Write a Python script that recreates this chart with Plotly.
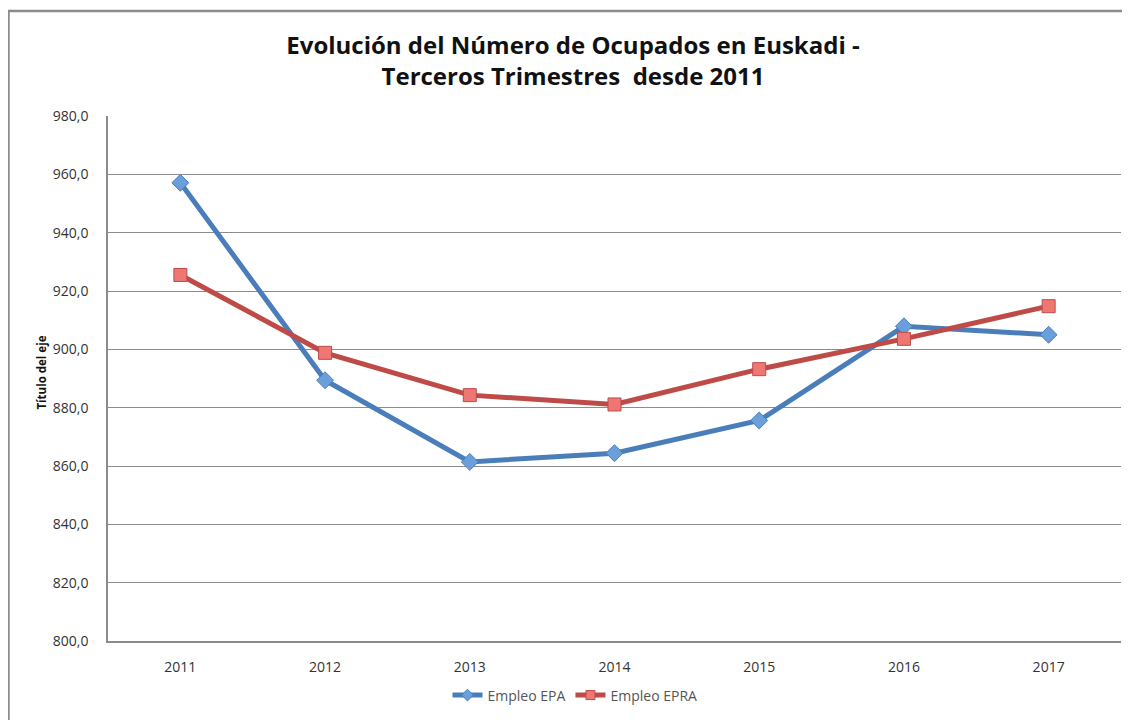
import plotly.graph_objects as go

years = ["2011", "2012", "2013", "2014", "2015", "2016", "2017"]
empleo_epa = [957.1, 889.4, 861.4, 864.4, 875.6, 907.9, 905.0]
empleo_epra = [925.5, 898.8, 884.3, 881.1, 893.2, 903.6, 914.8]
y_ticks = [800, 820, 840, 860, 880, 900, 920, 940, 960, 980]
y_tick_labels = ["800,0", "820,0", "840,0", "860,0", "880,0", "900,0", "920,0", "940,0", "960,0", "980,0"]

FONT = "Open Sans"
BLUE, BLUE_FILL = "#4A7EBB", "#6A9FDC"
RED, RED_FILL = "#BE4B48", "#EE7773"

fig = go.Figure()
fig.add_trace(go.Scatter(
    x=years, y=empleo_epa, name="Empleo EPA", mode="lines+markers", showlegend=False,
    line=dict(color=BLUE, width=5),
    marker=dict(symbol="diamond", size=13, color=BLUE_FILL, line=dict(color=BLUE, width=1)),
))
fig.add_trace(go.Scatter(
    x=years, y=empleo_epra, name="Empleo EPRA", mode="lines+markers", showlegend=False,
    line=dict(color=RED, width=5),
    marker=dict(symbol="square", size=13, color=RED_FILL, line=dict(color=RED, width=1)),
))
# legend entries (smaller markers, as in the original legend)
fig.add_trace(go.Scatter(
    x=[None], y=[None], name="Empleo EPA", mode="lines+markers",
    line=dict(color=BLUE, width=5),
    marker=dict(symbol="diamond", size=9, color=BLUE_FILL, line=dict(color=BLUE, width=1)),
))
fig.add_trace(go.Scatter(
    x=[None], y=[None], name="Empleo EPRA", mode="lines+markers",
    line=dict(color=RED, width=5),
    marker=dict(symbol="square", size=9, color=RED_FILL, line=dict(color=RED, width=1)),
))

# page body has an 8px margin; the figure is sized/offset to compensate
OFF = 8
W, H = 1130 - OFF, 720 - OFF
ml, mr, mt, mb = 108 - OFF, 9, 117 - OFF - 1, 74
pw, ph = W - ml - mr, H - mt - mb

def px_x(p):  # p = page pixel
    return (p - OFF - ml) / pw

def px_y(p):
    return (H - mb - (p - OFF)) / ph

frame = f"M {px_x(1140)},{px_y(10)} L {px_x(8.5)},{px_y(10)} L {px_x(8.5)},{px_y(730)}"

fig.update_layout(
    width=W, height=H,
    margin=dict(l=ml, r=mr, t=mt, b=mb),
    paper_bgcolor="white", plot_bgcolor="white",
    font=dict(family=FONT, color="#333333"),
    title=dict(
        text="Evolución del Número de Ocupados en Euskadi -<br>Terceros Trimestres  desde 2011",
        x=(573 - OFF) / W, xanchor="center", y=1 - (54 - OFF) / H, yanchor="middle",
        font=dict(family=FONT, size=24, color="#111111", weight="bold"),
    ),
    showlegend=True,
    legend=dict(
        orientation="h", x=px_x(575), xanchor="center",
        y=px_y(701), yanchor="middle",
        font=dict(family=FONT, size=14, color="#555555"),
        tracegroupgap=0, bgcolor="rgba(0,0,0,0)",
    ),
    xaxis=dict(
        type="category", range=[-0.5, 6.5],
        showgrid=False, showline=True, linecolor="#8c8c8c", linewidth=1.5,
        ticks="", tickfont=dict(family=FONT, size=14, color="#333333"),
        ticklabelstandoff=12, zeroline=False,
    ),
    yaxis=dict(
        range=[800, 980], tickvals=y_ticks, ticktext=y_tick_labels,
        showgrid=True, gridcolor="#8c8c8c", gridwidth=1.2,
        showline=True, linecolor="#8c8c8c", linewidth=1.5,
        ticks="", tickfont=dict(family=FONT, size=14, color="#333333"),
        ticklabelstandoff=15, zeroline=False,
    ),
    annotations=[dict(
        text="Título del eje", textangle=-90, showarrow=False,
        xref="paper", yref="paper", x=px_x(42), y=px_y(375),
        xanchor="center", yanchor="middle",
        font=dict(family=FONT, size=11.5, color="#111111", weight="bold"),
    )],
    shapes=[dict(type="path", xref="paper", yref="paper", path=frame,
                 line=dict(color="#8c8c8c", width=2.5), layer="above")],
)

fig.write_html("out.html")
